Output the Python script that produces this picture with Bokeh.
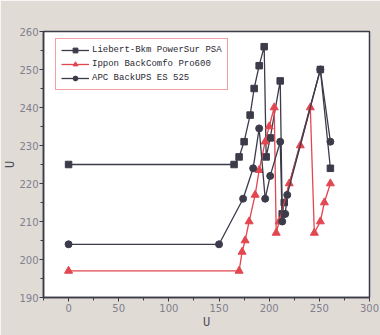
from bokeh.plotting import figure
from bokeh.embed import file_html
from bokeh.resources import INLINE
from bokeh.models import Range1d, Legend, LegendItem, FixedTicker

# Data
liebert_x = [0, 165, 170, 175, 181, 185, 190, 195, 197, 201, 211, 213, 215, 251, 261]
liebert_y = [225, 225, 227, 231, 238, 245, 251, 256, 227, 232, 247, 212, 215, 250, 224]

ippon_x = [0, 170, 173, 176, 180, 186, 190, 196, 200, 205, 207, 210, 220, 231, 241, 245, 251, 255, 261]
ippon_y = [197, 197, 202, 205, 210, 217, 223.5, 231, 235, 240, 207, 210, 220, 230, 240, 207, 210, 215, 220]

apc_x = [0, 150, 174, 184, 190, 196, 201, 211, 213, 216, 218, 251, 261]
apc_y = [204, 204, 216, 224, 234.5, 216, 222, 231, 210, 212, 217, 250, 231]

names = ["Liebert-Bkm PowerSur PSA", "Ippon BackComfo Pro600", "APC BackUPS ES 525"]
x_ticks = [0, 50, 100, 150, 200, 250, 300]
y_ticks = [190, 200, 210, 220, 230, 240, 250, 260]
x_title = "U"
y_title = "U"

DARK = "#3b3b4a"
RED = "#e2464f"
BG = "#e1dbd6"

p = figure(width=380, height=335, output_backend="svg", toolbar_location=None,
           x_range=Range1d(-25, 300), y_range=Range1d(190, 260),
           min_border_left=43, min_border_right=11, min_border_top=31, min_border_bottom=38)
p.border_fill_color = BG
p.background_fill_color = "white"
p.outline_line_color = DARK
p.outline_line_width = 1.5
p.grid.visible = False

r1l = p.line(liebert_x, liebert_y, color=DARK, line_width=1.3)
r1m = p.scatter(liebert_x[1:], liebert_y[1:], marker="square", size=6.5, color=DARK)
r1leg = p.scatter([0], [liebert_y[0]], marker="square", size=6.5, color=DARK)

r2l = p.line(ippon_x, ippon_y, color=RED, line_width=1.3)
r2m = p.scatter(ippon_x, ippon_y, marker="triangle", size=8, color=RED)

r3l = p.line(apc_x, apc_y, color=DARK, line_width=1.3)
r3m = p.scatter(apc_x, apc_y, marker="circle", size=7, color=DARK)

for ax in (p.xaxis, p.yaxis):
    ax.axis_line_color = DARK
    ax.axis_line_width = 1.5
    ax.major_tick_line_color = DARK
    ax.minor_tick_line_color = DARK
    ax.major_tick_out = 4
    ax.major_tick_in = 0
    ax.minor_tick_out = 3
    ax.minor_tick_in = 0
    ax.major_label_text_font = "DejaVu Sans"
    ax.major_label_text_font_size = "10px"
    ax.major_label_text_color = "#80808e"
    ax.axis_label_text_font = "Liberation Mono"
    ax.axis_label_text_font_size = "12px"
    ax.axis_label_text_font_style = "normal"
    ax.axis_label_text_color = "#4a4a58"

p.xaxis.axis_label = x_title
p.yaxis.axis_label = y_title
p.xaxis.ticker = FixedTicker(ticks=x_ticks, minor_ticks=[-25, 25, 75, 125, 175, 225, 275])
p.yaxis.ticker = FixedTicker(ticks=y_ticks, minor_ticks=[195, 205, 215, 225, 235, 245, 255])
p.xaxis.major_label_standoff = 2
p.yaxis.major_label_standoff = 1
p.xaxis.axis_label_standoff = 1
p.yaxis.axis_label_standoff = -2

legend = Legend(items=[
    LegendItem(label=names[0], renderers=[r1l, r1leg]),
    LegendItem(label=names[1], renderers=[r2l, r2m]),
    LegendItem(label=names[2], renderers=[r3l, r3m]),
], location=(12, 207))
legend.label_text_font = "Liberation Mono"
legend.label_text_font_size = "9px"
legend.label_text_color = "#2a2a35"
legend.glyph_width = 28
legend.glyph_height = 12
legend.label_height = 12
legend.label_standoff = 3
legend.spacing = 2
legend.padding = 5
legend.margin = 0
legend.border_line_color = RED
legend.border_line_width = 1.5
legend.background_fill_color = "white"
legend.background_fill_alpha = 1
p.add_layout(legend)

open("out.html", "w").write(file_html(p, INLINE))
